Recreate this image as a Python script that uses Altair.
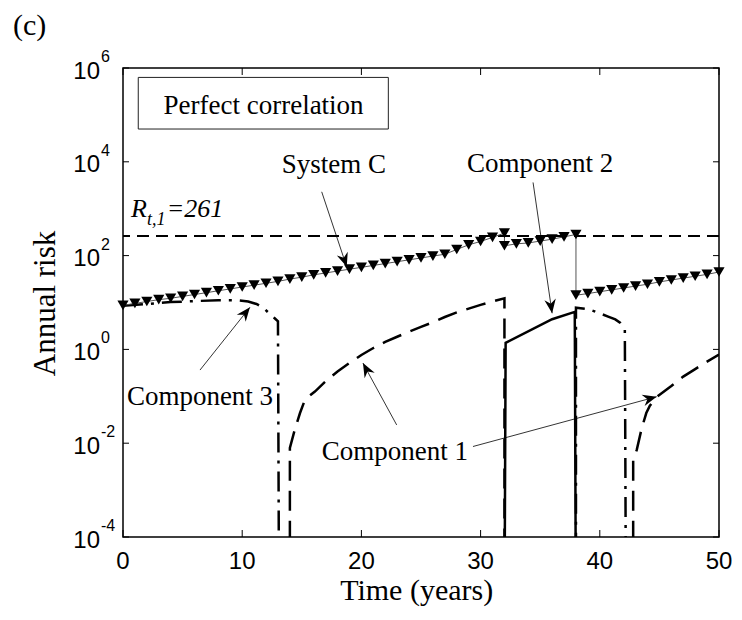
import math
import altair as alt
import pandas as pd

# ---------------- data ----------------
# System C (markers every year, two values at the jumps at t=32 and t=38)
sys_t = [0, 1, 2, 3, 4, 5, 6, 7, 8, 9, 10, 11, 12, 13, 14, 15, 16, 17, 18, 19, 20,
         21, 22, 23, 24, 25, 26, 27, 28, 29, 30, 31, 32, 32, 33, 34, 35, 36, 37, 38, 38,
         39, 40, 41, 42, 43, 44, 45, 46, 47, 48, 49, 50]
sys_r = [8.71, 9.55, 10.5, 11.5, 12.3, 13.5, 14.8, 16.2, 17.8, 19.5, 21.4, 23.4, 25.7,
         28.2, 31.6, 34.7, 38.9, 42.7, 46.8, 51.3, 56.2, 61.7, 67.6, 74.1, 81.3, 89.1,
         97.7, 107, 135, 170, 200, 245, 302, 162, 178, 186, 204, 224, 251, 282, 14.3,
         15.5, 17.0, 18.6, 20.4, 22.4, 24.5, 27.5, 30.2, 33.1, 36.3, 39.8, 44.7]

# Component 1 (dashed), two cycles
c1a_t = [14.0, 14.0, 14.4, 14.85, 15.2, 15.6, 16.1, 17, 18, 19, 20, 21, 22, 23, 24, 25,
         26, 27, 28, 29, 30, 31, 32, 32]
c1a_r = [1e-6, 0.0079, 0.019, 0.044, 0.076, 0.10, 0.126, 0.209, 0.339, 0.513, 0.759,
         1.07, 1.45, 1.86, 2.40, 3.02, 3.80, 4.90, 6.17, 7.41, 8.91, 10.5, 12.3, 1e-6]
c1b_t = [42.8, 42.8, 43.1, 43.5, 43.9, 44.2, 44.8, 46, 47, 48, 49, 50]
c1b_r = [1e-6, 0.0044, 0.0072, 0.020, 0.044, 0.063, 0.098, 0.166, 0.263, 0.380, 0.550, 0.776]

# Component 2 (solid)
c2_t = [32.0, 32.1, 36.0, 37.9, 38.0]
c2_r = [1e-6, 1.38, 4.4, 6.3, 1e-6]

# Component 3 (dash-dot), two cycles
c3a_t = [0, 2, 4, 6, 8, 9.5, 10.5, 11.2, 11.8, 12.3, 12.7, 13.0, 13.1]
c3a_r = [8.5, 9.3, 10.2, 10.7, 11.2, 11.2, 10.5, 9.3, 7.6, 5.75, 4.68, 3.98, 1e-6]
c3b_t = [38.0, 38.0, 39, 40, 40.7, 41.3, 41.7, 42.0, 42.1, 42.2]
c3b_r = [1e-6, 7.76, 7.24, 5.89, 5.01, 4.37, 3.72, 2.95, 2.63, 1e-6]

threshold = 261

x_ticks = [0, 10, 20, 30, 40, 50]
y_ticks = [1e-4, 1e-2, 1, 1e2, 1e4, 1e6]
y_tick_exp = ["-4", "-2", "0", "2", "4", "6"]

# annotations (data coordinates)
ann_text = ["System C", "Component 2", "Component 3", "Component 1"]
ann_t = [17.7, 35.0, 6.46, 22.8]
ann_r = [5750, 6150, 0.065, 0.0044]

arr_t0 = [16.67, 34.4, 6.46, 22.96, 29.36]
arr_r0 = [2290, 3630, 0.363, 0.0245, 0.0085]
arr_t1 = [18.77, 36.0, 10.65, 20.13, 44.77]
arr_r1 = [57.5, 5.9, 7.9, 0.51, 0.098]

box_t = [1.28, 22.26]
box_r = [6.3e5, 5.0e4]

# ---------------- chart ----------------
W, H = 596, 469
SERIF = "Liberation Serif"
SANS = "Liberation Sans"

xs = alt.Scale(domain=[0, 50], nice=False, zero=False)
ys = alt.Scale(type="log", domain=[1e-4, 1e6], nice=False)


def X(f="t"):
    return alt.X(f"{f}:Q", scale=xs, axis=None)


def Y(f="r"):
    return alt.Y(f"{f}:Q", scale=ys, axis=None)


def line_layer(segments, dash, width):
    rows = []
    for k, (tt, rr) in enumerate(segments):
        for j, (a, b) in enumerate(zip(tt, rr)):
            rows.append({"t": a, "r": b, "seg": k, "i": j})
    df = pd.DataFrame(rows)
    kw = dict(color="black", strokeWidth=width, clip=True)
    if dash:
        kw["strokeDash"] = dash
    return alt.Chart(df).mark_line(**kw).encode(
        X(), Y(), detail="seg:N", order="i:Q")


# box
box_df = pd.DataFrame({"t": [box_t[0]], "t2": [box_t[1]], "r": [box_r[0]], "r2": [box_r[1]]})
box = alt.Chart(box_df).mark_rect(fill="white", stroke="#222", strokeWidth=1).encode(
    X(), x2="t2:Q", y=Y(), y2="r2:Q")
box_txt = alt.Chart(pd.DataFrame({"t": [11.79], "r": [1.07e5], "s": ["Perfect correlation"]})).mark_text(
    font=SERIF, fontSize=27, align="center", baseline="alphabetic", color="black").encode(
    X(), Y(), text="s:N")

thr = alt.Chart(pd.DataFrame({"r": [threshold]})).mark_rule(
    color="black", strokeWidth=2, strokeDash=[12, 7]).encode(y=Y())

c1 = line_layer([(c1a_t, c1a_r), (c1b_t, c1b_r)], [20, 10], 2.5)
c2 = line_layer([(c2_t, c2_r)], None, 2.5)
c3 = line_layer([(c3a_t, c3a_r), (c3b_t, c3b_r)], [20, 8, 3, 8], 2.5)

sys_df = pd.DataFrame({"t": sys_t, "r": sys_r, "i": range(len(sys_t))})
sys_line = alt.Chart(sys_df).mark_line(color="#555", strokeWidth=1).encode(X(), Y(), order="i:Q")
sys_pts = alt.Chart(sys_df).mark_point(shape="triangle-down", filled=True, color="black",
                                       size=125, opacity=1).encode(X(), Y())


# arrows
def px(t):
    return t / 50 * W


def py(r):
    return H * (6 - math.log10(r)) / 10


angs = []
for a, b, c, d in zip(arr_t0, arr_r0, arr_t1, arr_r1):
    dx = px(c) - px(a)
    dy = py(d) - py(b)
    angs.append(math.degrees(math.atan2(dx, -dy)) % 360)
arr_df = pd.DataFrame({"t0": arr_t0, "r0": arr_r0, "t": arr_t1, "r": arr_r1, "ang": angs})
arr_lines = alt.Chart(arr_df).mark_rule(color="black", strokeWidth=0.8).encode(
    x=X("t0"), y=Y("r0"), x2="t:Q", y2="r:Q")
arr_heads = alt.Chart(arr_df).mark_point(
    shape="M0,0L-0.45,1.1L0,0.75L0.45,1.1Z", filled=True, color="black", size=650, opacity=1
).encode(X(), Y(), angle=alt.Angle("ang:Q", scale=None))

ann_df = pd.DataFrame({"t": ann_t, "r": ann_r, "s": ann_text})
ann = alt.Chart(ann_df).mark_text(font=SERIF, fontSize=27, align="center",
                                  baseline="alphabetic", color="black").encode(X(), Y(), text="s:N")

# R_{t,1}=261 label
r_lab = alt.Chart(pd.DataFrame({"t": [0.67, 3.66], "r": [676, 676], "s": ["R", "=261"]})).mark_text(
    font=SERIF, fontSize=26, fontStyle="italic", align="left", baseline="alphabetic", color="black"
).encode(X(), Y(), text="s:N")
r_sub = alt.Chart(pd.DataFrame({"t": [2.01], "r": [447], "s": ["t,1"]})).mark_text(
    font=SERIF, fontSize=18, fontStyle="italic", align="left", baseline="alphabetic", color="black"
).encode(X(), Y(), text="s:N")

# ticks (inside, all four sides)
yt_df = pd.DataFrame({"r": y_ticks, "b": ["10"] * len(y_ticks), "e": y_tick_exp})
xt_df = pd.DataFrame({"t": x_ticks, "s": [str(v) for v in x_ticks]})
tl = alt.Chart(yt_df).mark_rule(color="black", strokeWidth=1).encode(y=Y(), x=alt.value(0), x2=alt.value(6))
tr = alt.Chart(yt_df).mark_rule(color="black", strokeWidth=1).encode(y=Y(), x=alt.value(W - 6), x2=alt.value(W))
tb = alt.Chart(xt_df).mark_rule(color="black", strokeWidth=1).encode(x=X(), y=alt.value(H - 7), y2=alt.value(H))
tt = alt.Chart(xt_df).mark_rule(color="black", strokeWidth=1).encode(x=X(), y=alt.value(0), y2=alt.value(7))

ylab_b = alt.Chart(yt_df).mark_text(font=SANS, fontSize=24, align="right", baseline="alphabetic",
                                    dy=10.5, color="black").encode(y=Y(), x=alt.value(-23), text="b:N")
ylab_e = alt.Chart(yt_df).mark_text(font=SANS, fontSize=16, align="left", baseline="alphabetic",
                                    dy=-6, color="black").encode(y=Y(), x=alt.value(-22), text="e:N")
xlab = alt.Chart(xt_df).mark_text(font=SANS, fontSize=24, align="center", baseline="alphabetic",
                                  color="black").encode(x=X(), y=alt.value(501), text="s:N")

xtitle = alt.Chart(pd.DataFrame({"s": ["Time (years)"]})).mark_text(
    font=SERIF, fontSize=30, align="center", baseline="alphabetic", color="black").encode(
    x=alt.value(293.7), y=alt.value(532), text="s:N")
ytitle = alt.Chart(pd.DataFrame({"s": ["Annual risk"]})).mark_text(
    font=SERIF, fontSize=31, align="center", baseline="alphabetic", angle=270, color="black").encode(
    x=alt.value(-68), y=alt.value(235.5), text="s:N")
panel = alt.Chart(pd.DataFrame({"s": ["(c)"]})).mark_text(
    font=SERIF, fontSize=30, align="left", baseline="alphabetic", color="black").encode(
    x=alt.value(-110), y=alt.value(-33), text="s:N")

chart = alt.layer(
    box, box_txt, thr, c3, c1, c2, sys_line, sys_pts, arr_lines, arr_heads, ann, r_lab, r_sub,
    tl, tr, tb, tt, ylab_b, ylab_e, xlab, xtitle, ytitle, panel
).properties(
    width=W, height=H,
    autosize=alt.AutoSizeParams(type="none"),
    padding={"left": 115, "top": 60, "right": 15, "bottom": 80},
    background="white",
).configure_view(stroke="black", strokeWidth=1.5)

chart.save("out.html", embed_options={"renderer": "svg", "actions": False})
